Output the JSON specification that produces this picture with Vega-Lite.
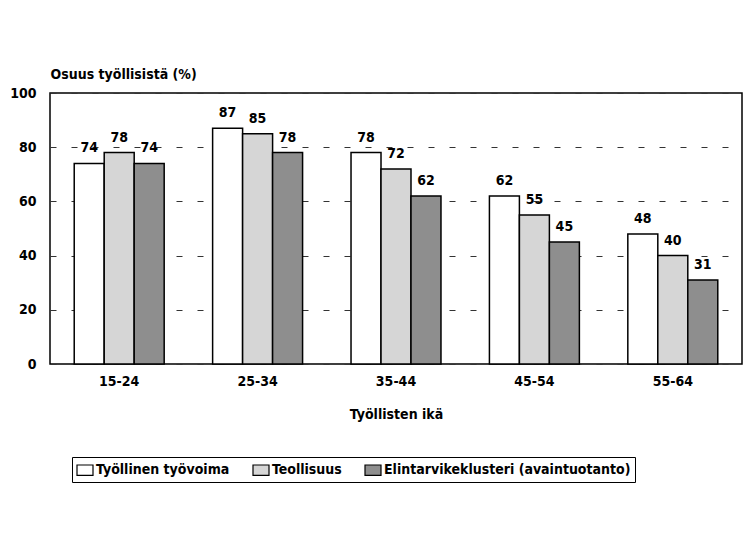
{
  "$schema": "https://vega.github.io/schema/vega-lite/v6.json",
  "width": 692,
  "height": 271,
  "autosize": "none",
  "padding": {"left": 50, "top": 93, "right": 2, "bottom": 171},
  "background": "white",
  "config": {
    "font": "DejaVu Sans Condensed, Liberation Sans, sans-serif",
    "view": {"stroke": "black", "strokeWidth": 1.5},
    "axis": {"labelFont": "DejaVu Sans Condensed, Liberation Sans, sans-serif", "titleFont": "DejaVu Sans Condensed, Liberation Sans, sans-serif"}
  },
  "data": {
    "values": [
      {"ika": "15-24", "sarja": "Työllinen työvoima", "arvo": 74},
      {"ika": "15-24", "sarja": "Teollisuus", "arvo": 78},
      {"ika": "15-24", "sarja": "Elintarvikeklusteri (avaintuotanto)", "arvo": 74},
      {"ika": "25-34", "sarja": "Työllinen työvoima", "arvo": 87},
      {"ika": "25-34", "sarja": "Teollisuus", "arvo": 85},
      {"ika": "25-34", "sarja": "Elintarvikeklusteri (avaintuotanto)", "arvo": 78},
      {"ika": "35-44", "sarja": "Työllinen työvoima", "arvo": 78},
      {"ika": "35-44", "sarja": "Teollisuus", "arvo": 72},
      {"ika": "35-44", "sarja": "Elintarvikeklusteri (avaintuotanto)", "arvo": 62},
      {"ika": "45-54", "sarja": "Työllinen työvoima", "arvo": 62},
      {"ika": "45-54", "sarja": "Teollisuus", "arvo": 55},
      {"ika": "45-54", "sarja": "Elintarvikeklusteri (avaintuotanto)", "arvo": 45},
      {"ika": "55-64", "sarja": "Työllinen työvoima", "arvo": 48},
      {"ika": "55-64", "sarja": "Teollisuus", "arvo": 40},
      {"ika": "55-64", "sarja": "Elintarvikeklusteri (avaintuotanto)", "arvo": 31}
    ]
  },
  "encoding": {
    "x": {
      "field": "ika", "type": "nominal",
      "scale": {"paddingInner": 0.35, "paddingOuter": 0.175},
      "axis": {
        "title": "Työllisten ikä", "titleFontSize": 14, "titleFontWeight": "bold", "titlePadding": 19,
        "labelAngle": 0, "labelFontSize": 14, "labelFontWeight": "bold", "labelColor": "black", "titleColor": "black",
        "ticks": false, "domain": false, "labelPadding": 10
      }
    },
    "xOffset": {"field": "sarja", "type": "nominal", "sort": ["Työllinen työvoima", "Teollisuus", "Elintarvikeklusteri (avaintuotanto)"]},
    "y": {
      "field": "arvo", "type": "quantitative",
      "scale": {"domain": [0, 100]},
      "axis": {
        "values": [0, 20, 40, 60, 80, 100],
        "title": "Osuus työllisistä (%)", "titleAngle": 0, "titleAlign": "left", "titleBaseline": "bottom",
        "titleX": 0, "titleY": -12, "titleFontSize": 14, "titleFontWeight": "bold", "titleColor": "black",
        "labelFontSize": 14, "labelFontWeight": "bold", "labelColor": "black", "labelPadding": 14,
        "ticks": false, "domain": false,
        "grid": true, "gridColor": "#333333", "gridDash": [6, 15], "gridWidth": 1
      }
    }
  },
  "layer": [
    {
      "mark": {"type": "bar", "stroke": "black", "strokeWidth": 1.5},
      "encoding": {
        "fill": {
          "field": "sarja", "type": "nominal",
          "sort": ["Työllinen työvoima", "Teollisuus", "Elintarvikeklusteri (avaintuotanto)"],
          "scale": {"domain": ["Työllinen työvoima", "Teollisuus", "Elintarvikeklusteri (avaintuotanto)"], "range": ["#ffffff", "#d6d6d6", "#8e8e8e"]},
          "legend": {
            "title": null, "orient": "none", "direction": "horizontal",
            "legendX": 22, "legendY": 364,
            "strokeColor": "black", "padding": 4,
            "symbolType": "M-1,-0.65H1V0.65H-1Z", "symbolSize": 256, "symbolStrokeColor": "black", "symbolStrokeWidth": 1.2,
            "labelFontSize": 14, "labelFontWeight": "bold", "labelColor": "black", "labelLimit": 400,
            "labelFont": "DejaVu Sans Condensed, Liberation Sans, sans-serif",
            "columnPadding": 20, "symbolOffset": 0, "labelOffset": 2
          }
        }
      }
    },
    {
      "mark": {"type": "text", "dy": -8, "fontSize": 14, "fontWeight": "bold", "color": "black", "baseline": "bottom"},
      "encoding": {"text": {"field": "arvo", "type": "quantitative"}}
    }
  ]
}
